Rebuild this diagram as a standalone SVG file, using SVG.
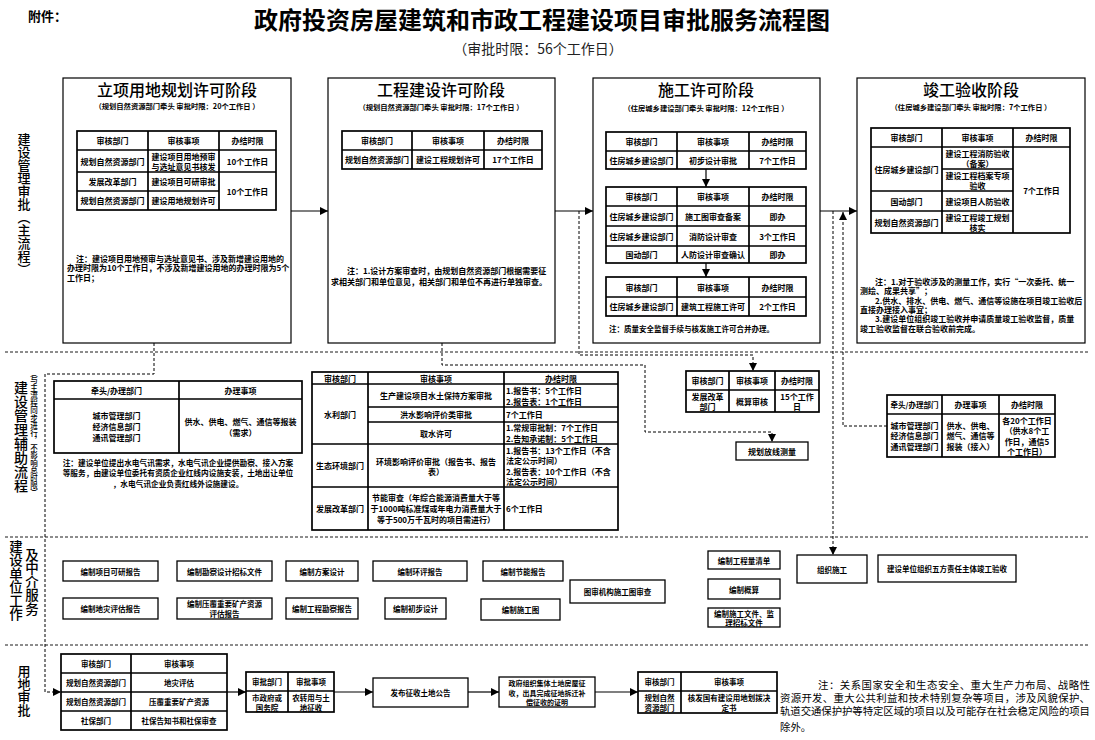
<svg xmlns="http://www.w3.org/2000/svg" width="1095" height="740" viewBox="0 0 1095 740">
<style>
text{font-family:"Noto Sans CJK SC","Noto Sans",sans-serif;fill:#000}
.c{text-anchor:middle;dominant-baseline:central;font-size:8px;font-weight:bold}
.c7{text-anchor:middle;dominant-baseline:central;font-size:7.5px;font-weight:bold}
.l{text-anchor:start;dominant-baseline:central;font-size:8px;font-weight:bold}
.st{text-anchor:middle;dominant-baseline:central;font-size:16px;font-weight:500}
.sub{text-anchor:middle;dominant-baseline:central;font-size:7.3px;font-weight:bold}
.v{writing-mode:tb;font-weight:500}
.stage{fill:#fff;stroke:#000;stroke-width:1.2}
.tb{fill:none;stroke:#000;stroke-width:1.7}
.bx{fill:#fff;stroke:#000;stroke-width:1.3}
.ln{stroke:#000;stroke-width:1.2;fill:none}
.ar{stroke:#000;stroke-width:1.2;fill:none;marker-end:url(#ah)}
.da{stroke:#000;stroke-width:1;fill:none;stroke-dasharray:3 2;marker-end:url(#ah)}
.sep{stroke:#000;stroke-width:0.9;fill:none;stroke-dasharray:3 2}
</style>
<defs>
<marker id="ah" viewBox="0 0 10 10" refX="10" refY="5" markerWidth="8" markerHeight="8" markerUnits="userSpaceOnUse" orient="auto"><path d="M0,0 L10,5 L0,10 z" fill="#000"/></marker>
</defs>
<rect width="1095" height="740" fill="#fff"/>

<g id="header">
<text x="28" y="15" style="font-size:13px;font-weight:bold;dominant-baseline:central">附件：</text>
<text x="542" y="18" style="font-size:24px;font-weight:bold;text-anchor:middle;dominant-baseline:central">政府投资房屋建筑和市政工程建设项目审批服务流程图</text>
<text x="538" y="48" style="font-size:14px;text-anchor:middle;dominant-baseline:central;fill:#222">（审批时限：56个工作日）</text>
</g>

<g id="lanes">
<path class="sep" d="M5,352 H1090 M5,537 H1090 M5,645 H1090"/>
<text class="v" x="24" y="133" style="font-size:13px">建设管理审批（主流程）</text>
<text class="v" x="21" y="381" style="font-size:14px">建设管理辅助流程</text>
<text class="v" x="34" y="369" style="font-size:7.5px">（与主流程同步进行，不影响总时限）</text>
<text class="v" x="16" y="540" style="font-size:13.5px">建设单位工作</text>
<text class="v" x="32" y="548" style="font-size:13.5px">及中介服务</text>
<text class="v" x="24" y="665" style="font-size:13px">用地审批</text>
</g>

<g id="stage1">
<rect class="stage" x="63" y="78" width="228" height="265"/>
<text class="st" x="177" y="89">立项用地规划许可阶段</text>
<text class="sub" x="177" y="106">（规划自然资源部门牵头 审批时限：20个工作日 ）</text>
<rect class="tb" x="77" y="131" width="199" height="79"/>
<path class="tb" d="M148,131 V210 M219,131 V210 M77,150 H276 M77,172 H276 M77,191 H219"/>
<text class="c" x="112.5" y="140.5">审核部门</text>
<text class="c" x="183.5" y="140.5">审核事项</text>
<text class="c" x="247.5" y="140.5">办结时限</text>
<text class="c" x="112.5" y="161">规划自然资源部门</text>
<text class="c" x="183.5" y="156">建设项目用地预审</text>
<text class="c" x="183.5" y="166">与选址意见书核发</text>
<text class="c" x="247.5" y="161">10个工作日</text>
<text class="c" x="112.5" y="181.5">发展改革部门</text>
<text class="c" x="183.5" y="181.5">建设项目可研审批</text>
<text class="c" x="112.5" y="200.5">规划自然资源部门</text>
<text class="c" x="183.5" y="200.5">建设用地规划许可</text>
<text class="c" x="247.5" y="191">10个工作日</text>
<text class="l" x="76" y="258">注：建设项目用地预审与选址意见书、涉及新增建设用地的</text>
<text class="l" x="67" y="267.5">办理时限为10个工作日，不涉及新增建设用地的办理时限为5个</text>
<text class="l" x="67" y="277">工作日；</text>
</g>

<g id="stage2">
<rect class="stage" x="328" y="78" width="227" height="265"/>
<text class="st" x="441" y="89">工程建设许可阶段</text>
<text class="sub" x="441" y="107">（规划自然资源部门牵头 审批时限：17个工作日 ）</text>
<rect class="tb" x="342" y="131" width="200" height="38"/>
<path class="tb" d="M412,131 V169 M484,131 V169 M342,150 H542"/>
<text class="c" x="377" y="140.5">审核部门</text>
<text class="c" x="448" y="140.5">审核事项</text>
<text class="c" x="513" y="140.5">办结时限</text>
<text class="c" x="377" y="159.5">规划自然资源部门</text>
<text class="c" x="448" y="159.5">建设工程规划许可</text>
<text class="c" x="513" y="159.5">17个工作日</text>
<text class="l" x="347" y="270">注：1.设计方案审查时，由规划自然资源部门根据需要征</text>
<text class="l" x="331" y="281">求相关部门和单位意见，相关部门和单位不再进行单独审查。</text>
</g>

<g id="stage3">
<rect class="stage" x="593" y="78" width="227" height="265"/>
<text class="st" x="706" y="89">施工许可阶段</text>
<text class="sub" x="706" y="108">（住房城乡建设部门牵头 审批时限：12个工作日 ）</text>
<rect class="tb" x="606" y="132" width="200" height="37"/>
<path class="tb" d="M677,132 V169 M749,132 V169 M606,151 H806"/>
<text class="c" x="641.5" y="141.5">审核部门</text>
<text class="c" x="713" y="141.5">审核事项</text>
<text class="c" x="777.5" y="141.5">办结时限</text>
<text class="c" x="641.5" y="160">住房城乡建设部门</text>
<text class="c" x="713" y="160">初步设计审批</text>
<text class="c" x="777.5" y="160">7个工作日</text>
<rect class="tb" x="606" y="187" width="200" height="76"/>
<path class="tb" d="M677,187 V263 M749,187 V263 M606,206 H806 M606,226 H806 M606,246 H806"/>
<text class="c" x="641.5" y="196.5">审核部门</text>
<text class="c" x="713" y="196.5">审核事项</text>
<text class="c" x="777.5" y="196.5">办结时限</text>
<text class="c" x="641.5" y="216">住房城乡建设部门</text>
<text class="c" x="713" y="216">施工图审查备案</text>
<text class="c" x="777.5" y="216">即办</text>
<text class="c" x="641.5" y="236">住房城乡建设部门</text>
<text class="c" x="713" y="236">消防设计审查</text>
<text class="c" x="777.5" y="236">3个工作日</text>
<text class="c" x="641.5" y="254.5">国动部门</text>
<text class="c" x="713" y="254.5">人防设计审查确认</text>
<text class="c" x="777.5" y="254.5">即办</text>
<rect class="tb" x="606" y="277" width="200" height="39"/>
<path class="tb" d="M677,277 V316 M749,277 V316 M606,297 H806"/>
<text class="c" x="641.5" y="287">审核部门</text>
<text class="c" x="713" y="287">审核事项</text>
<text class="c" x="777.5" y="287">办结时限</text>
<text class="c" x="641.5" y="306.5">住房城乡建设部门</text>
<text class="c" x="713" y="306.5">建筑工程施工许可</text>
<text class="c" x="777.5" y="306.5">2个工作日</text>
<text class="l" x="609" y="328" style="font-size:7.5px">注：质量安全监督手续与核发施工许可合并办理。</text>
</g>

<g id="stage4">
<rect class="stage" x="857" y="78" width="228" height="265"/>
<text class="st" x="971" y="89">竣工验收阶段</text>
<text class="sub" x="971" y="107">（住房城乡建设部门牵头 审批时限：7个工作日 ）</text>
<rect class="tb" x="871" y="128" width="199" height="105"/>
<path class="tb" d="M942,128 V233 M1013,128 V233 M871,147 H1070 M942,169 H1013 M871,191 H1013 M871,211 H1013"/>
<text class="c" x="906.5" y="137.5">审核部门</text>
<text class="c" x="977.5" y="137.5">审核事项</text>
<text class="c" x="1041.5" y="137.5">办结时限</text>
<text class="c" x="906.5" y="169">住房城乡建设部门</text>
<text class="c" x="906.5" y="201">国动部门</text>
<text class="c" x="906.5" y="222">规划自然资源部门</text>
<text class="c" x="977.5" y="153">建设工程消防验收</text>
<text class="c" x="977.5" y="163">（备案）</text>
<text class="c" x="977.5" y="175">建设工程档案专项</text>
<text class="c" x="977.5" y="185">验收</text>
<text class="c" x="977.5" y="201">建设项目人防验收</text>
<text class="c" x="977.5" y="217">建设工程竣工规划</text>
<text class="c" x="977.5" y="227">核实</text>
<text class="c" x="1041.5" y="190">7个工作日</text>
<text class="l" x="875" y="281">注：1.对于验收涉及的测量工作，实行“一次委托、统一</text>
<text class="l" x="860" y="290.5">测绘、成果共享”；</text>
<text class="l" x="875" y="300">2.供水、排水、供电、燃气、通信等设施在项目竣工验收后</text>
<text class="l" x="860" y="309.5">直接办理接入事宜；</text>
<text class="l" x="875" y="318.5">3.建设单位组织竣工验收并申请质量竣工验收监督，质量</text>
<text class="l" x="860" y="328">竣工验收监督在联合验收前完成。</text>
</g>

<g id="aux-utilities">
<rect class="tb" x="54" y="381" width="248" height="72"/>
<path class="tb" d="M179,381 V453 M54,399 H302"/>
<text class="c" x="116.5" y="390">牵头/办理部门</text>
<text class="c" x="240.5" y="390">办理事项</text>
<text class="c" x="116.5" y="415">城市管理部门</text>
<text class="c" x="116.5" y="426">经济信息部门</text>
<text class="c" x="116.5" y="437">通讯管理部门</text>
<text class="c" x="240.5" y="421">供水、供电、燃气、通信等报装</text>
<text class="c" x="240.5" y="432">（需求）</text>
<text class="c" x="178" y="462" style="font-size:7.7px">注：建设单位提出水电气讯需求，水电气讯企业提供勘察、接入方案</text>
<text class="c" x="178" y="472.5" style="font-size:7.7px">等服务，由建设单位委托有资质企业红线内设施安装，土地出让单位</text>
<text class="c" x="178" y="483" style="font-size:7.7px">，水电气讯企业负责红线外设施建设。</text>
</g>

<g id="aux-approvals">
<rect class="tb" x="312" y="372" width="306" height="158"/>
<path class="tb" d="M368,372 V530 M504,372 V530 M312,384 H618 M368,407 H618 M368,422 H618 M312,444 H618 M312,487 H618"/>
<text class="c" x="340" y="378">审核部门</text>
<text class="c" x="436" y="378">审核事项</text>
<text class="c" x="561" y="378">办结时限</text>
<text class="c" x="340" y="414">水利部门</text>
<text class="c" x="436" y="395.5">生产建设项目水土保持方案审批</text>
<text class="l" x="506" y="390">1.报告书：5个工作日</text>
<text class="l" x="506" y="401">2.报告表：1个工作日</text>
<text class="c" x="436" y="414.5">洪水影响评价类审批</text>
<text class="l" x="506" y="414.5">7个工作日</text>
<text class="c" x="436" y="433">取水许可</text>
<text class="l" x="506" y="427.5">1.常规审批制：7个工作日</text>
<text class="l" x="506" y="438.5">2.告知承诺制：5个工作日</text>
<text class="c" x="340" y="465.5">生态环境部门</text>
<text class="c" x="436" y="461">环境影响评价审批（报告书、报告</text>
<text class="c" x="436" y="471.5">表）</text>
<text class="l" x="506" y="450">1.报告书：13个工作日（不含</text>
<text class="l" x="506" y="460.5">法定公示时间）</text>
<text class="l" x="506" y="471">2.报告表：10个工作日（不含</text>
<text class="l" x="506" y="481.5">法定公示时间）</text>
<text class="c" x="340" y="508.5">发展改革部门</text>
<text class="c" x="436" y="497.5">节能审查（年综合能源消费量大于等</text>
<text class="c" x="436" y="508.5">于1000吨标准煤或年电力消费量大于</text>
<text class="c" x="436" y="519.5">等于500万千瓦时的项目需进行）</text>
<text class="l" x="506" y="508.5">6个工作日</text>
</g>

<g id="aux-budget">
<rect class="tb" x="686" y="371" width="133" height="41"/>
<path class="tb" d="M729,371 V412 M775,371 V412 M686,390 H819"/>
<text class="c" x="707.5" y="380.5">审核部门</text>
<text class="c" x="752" y="380.5">审核事项</text>
<text class="c" x="797" y="380.5">办结时限</text>
<text class="c" x="707.5" y="396">发展改革</text>
<text class="c" x="707.5" y="406">部门</text>
<text class="c" x="752" y="401">概算审核</text>
<text class="c" x="797" y="396">15个工作</text>
<text class="c" x="797" y="406">日</text>
</g>

<g id="aux-survey">
<rect class="bx" x="736" y="442" width="72" height="18"/>
<text class="c" x="772" y="451">规划放线测量</text>
</g>

<g id="aux-connect">
<rect class="tb" x="887" y="395" width="168" height="62"/>
<path class="tb" d="M942,395 V457 M999,395 V457 M887,414 H1055"/>
<text class="c" x="914.5" y="404.5" style="font-size:7.5px">牵头/办理部门</text>
<text class="c" x="970.5" y="404.5">办理事项</text>
<text class="c" x="1027" y="404.5">办结时限</text>
<text class="c" x="914.5" y="425">城市管理部门</text>
<text class="c" x="914.5" y="435.5">经济信息部门</text>
<text class="c" x="914.5" y="446">通讯管理部门</text>
<text class="c" x="970.5" y="425">供水、供电、</text>
<text class="c" x="970.5" y="435.5">燃气、通信等</text>
<text class="c" x="970.5" y="446">报装（接入）</text>
<text class="c" x="1027" y="420">各20个工作日</text>
<text class="c" x="1027" y="430.5">（供水8个工</text>
<text class="c" x="1027" y="441">作日，通信5</text>
<text class="c" x="1027" y="451.5">个工作日）</text>
</g>

<g id="intermediary">
<rect class="bx" x="63" y="561" width="95" height="20"/><text class="c7" x="110.5" y="571">编制项目可研报告</text>
<rect class="bx" x="177" y="561" width="95" height="20"/><text class="c7" x="224.5" y="571">编制勘察设计招标文件</text>
<rect class="bx" x="286" y="561" width="72" height="20"/><text class="c7" x="322" y="571">编制方案设计</text>
<rect class="bx" x="373" y="561" width="94" height="20"/><text class="c7" x="420" y="571">编制环评报告</text>
<rect class="bx" x="483" y="561" width="80" height="20"/><text class="c7" x="523" y="571">编制节能报告</text>
<rect class="bx" x="63" y="598" width="95" height="21"/><text class="c7" x="110.5" y="608.5">编制地灾评估报告</text>
<rect class="bx" x="177" y="598" width="95" height="21"/><text class="c7" x="224.5" y="603.5">编制压覆重要矿产资源</text><text class="c7" x="224.5" y="613.5">评估报告</text>
<rect class="bx" x="286" y="598" width="72" height="21"/><text class="c7" x="322" y="608.5">编制工程勘察报告</text>
<rect class="bx" x="385" y="598" width="61" height="21"/><text class="c7" x="415.5" y="608.5">编制初步设计</text>
<rect class="bx" x="481" y="599" width="79" height="21"/><text class="c7" x="520.5" y="609.5">编制施工图</text>
<rect class="bx" x="570" y="580" width="95" height="23"/><text class="c7" x="617.5" y="591.5">图审机构施工图审查</text>
<rect class="bx" x="708" y="551" width="72" height="18"/><text class="c7" x="744" y="560">编制工程量清单</text>
<rect class="bx" x="708" y="579" width="72" height="20"/><text class="c7" x="744" y="589">编制概算</text>
<rect class="bx" x="708" y="608" width="72" height="19"/><text class="c7" x="744" y="613">编制施工文件、监</text><text class="c7" x="744" y="622">理招标文件</text>
<rect class="bx" x="797" y="555" width="70" height="28"/><text class="c7" x="832" y="569">组织施工</text>
<rect class="bx" x="878" y="555" width="138" height="27"/><text class="c7" x="947" y="568.5">建设单位组织五方责任主体竣工验收</text>
</g>

<g id="land">
<rect class="tb" x="61" y="654" width="166" height="76"/>
<path class="tb" d="M131,654 V730 M61,673 H227 M61,692 H227 M61,711 H227"/>
<text class="c7" x="96" y="663.5">审核部门</text>
<text class="c7" x="179" y="663.5">审核事项</text>
<text class="c7" x="96" y="682.5">规划自然资源部门</text>
<text class="c7" x="179" y="682.5">地灾评估</text>
<text class="c7" x="96" y="701.5">规划自然资源部门</text>
<text class="c7" x="179" y="701.5">压覆重要矿产资源</text>
<text class="c7" x="96" y="720.5">社保部门</text>
<text class="c7" x="179" y="720.5">社保告知书和社保审查</text>
<rect class="tb" x="246" y="672" width="88" height="40"/>
<path class="tb" d="M288,672 V712 M246,691 H334"/>
<text class="c7" x="267" y="681.5">审批部门</text>
<text class="c7" x="311" y="681.5">审批事项</text>
<text class="c7" x="267" y="697">市政府或</text>
<text class="c7" x="267" y="707">国务院</text>
<text class="c7" x="311" y="697">农转用与土</text>
<text class="c7" x="311" y="707">地征收</text>
<rect class="bx" x="373" y="678" width="95" height="29"/>
<text class="c7" x="420.5" y="692.5">发布征收土地公告</text>
<rect class="bx" x="499" y="677" width="96" height="30"/>
<text class="c" x="547" y="683" style="font-size:7px">政府组织集体土地房屋征</text>
<text class="c" x="547" y="692.5" style="font-size:7px">收，出具完成征地拆迁补</text>
<text class="c" x="547" y="702" style="font-size:7px">偿征收的证明</text>
<rect class="tb" x="638" y="672" width="139" height="41"/>
<path class="tb" d="M681,672 V713 M638,691 H777"/>
<text class="c7" x="659.5" y="681.5">审核部门</text>
<text class="c7" x="729" y="681.5">审核事项</text>
<text class="c7" x="659.5" y="697">规划自然</text>
<text class="c7" x="659.5" y="707">资源部门</text>
<text class="c7" x="729" y="697">核发国有建设用地划拨决</text>
<text class="c7" x="729" y="707">定书</text>
<text x="818" y="684" textLength="272" lengthAdjust="spacing" style="font-size:10.4px;dominant-baseline:central">注：关系国家安全和生态安全、重大生产力布局、战略性</text>
<text x="780" y="697" textLength="310" lengthAdjust="spacing" style="font-size:10.4px;dominant-baseline:central">资源开发、重大公共利益和技术特别复杂等项目，涉及风貌保护、</text>
<text x="780" y="710" textLength="310" lengthAdjust="spacing" style="font-size:10.4px;dominant-baseline:central">轨道交通保护护等特定区域的项目以及可能存在社会稳定风险的项目</text>
<text x="780" y="726" style="font-size:10.4px;dominant-baseline:central">除外。</text>
</g>

<g id="connectors">
<path class="ar" d="M291,211 H328"/>
<path class="ar" d="M555,211 H593"/>
<path class="ar" d="M820,211 H857"/>
<path class="ar" d="M706,169 V187"/>
<path class="ar" d="M706,263 V277"/>
<path class="da" d="M154,343 V374 H45 V692 H61"/>
<path class="da" d="M442,343 V365 H645 V432 H772 V442"/>
<path class="da" d="M579,211 V355 H753 V371"/>
<path class="da" d="M833,211 V555"/>
<path class="da" d="M887,426 H843 V212"/>
<path class="ar" d="M227,692 H246"/>
<path class="ar" d="M334,692 H373"/>
<path class="ar" d="M468,692 H499"/>
<path class="ar" d="M595,692 H638"/>
</g>
</svg>
